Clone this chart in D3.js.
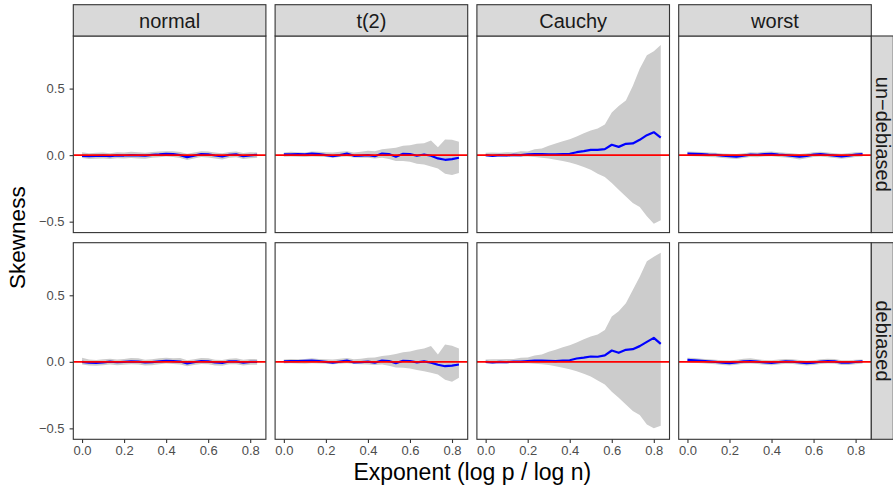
<!DOCTYPE html>
<html><head><meta charset="utf-8">
<script src="https://cdn.jsdelivr.net/npm/d3@7"></script>
<style>html,body{margin:0;padding:0;background:#fff;} svg{display:block;font-family:"Liberation Sans",Arial,Helvetica,sans-serif;}</style>
</head><body><svg id="c" width="893" height="493"></svg>
<script>
// ---- data ----
const columns = ["normal", "t(2)", "Cauchy", "worst"];
const rowsLab = ["un\u2212debiased", "debiased"];
const xTicks = [0, 0.2, 0.4, 0.6, 0.8];
const yTicks = [-0.5, 0, 0.5];
const xs = [0, 0.033, 0.067, 0.1, 0.133, 0.167, 0.2, 0.233, 0.267, 0.3, 0.333, 0.367, 0.4, 0.433, 0.467, 0.5, 0.533, 0.567, 0.6, 0.633, 0.667, 0.7, 0.733, 0.767, 0.8, 0.833];

const normalUnLine = [-0.005,-0.008,-0.006,-0.004,-0.007,-0.002,-0.003,0.000,-0.002,-0.004,0.002,0.005,0.010,0.008,0.000,-0.015,-0.004,0.008,0.005,-0.003,-0.010,0.002,0.006,-0.008,-0.002,0.002];
const normalUnHigh = [0.022,0.015,0.018,0.020,0.015,0.022,0.020,0.025,0.022,0.018,0.024,0.028,0.030,0.030,0.024,0.010,0.020,0.030,0.028,0.020,0.014,0.024,0.028,0.016,0.022,0.020];
const normalUnLow  = [-0.022,-0.030,-0.028,-0.026,-0.030,-0.024,-0.026,-0.022,-0.026,-0.028,-0.020,-0.016,-0.010,-0.014,-0.022,-0.036,-0.026,-0.014,-0.018,-0.026,-0.032,-0.020,-0.016,-0.030,-0.024,-0.020];

const normalDeLine = [0.000,-0.006,-0.008,-0.004,0.002,-0.003,0.000,0.004,0.002,-0.004,-0.002,0.004,0.008,0.005,0.002,-0.012,-0.002,0.006,0.004,-0.005,-0.008,0.003,0.004,-0.006,0.000,0.000];
const normalDeHigh = [0.030,0.018,0.014,0.020,0.024,0.018,0.022,0.028,0.026,0.016,0.020,0.026,0.030,0.026,0.028,0.012,0.020,0.028,0.026,0.016,0.014,0.024,0.026,0.016,0.022,0.020];
const normalDeLow  = [-0.020,-0.028,-0.030,-0.026,-0.020,-0.026,-0.022,-0.018,-0.020,-0.028,-0.026,-0.018,-0.012,-0.016,-0.020,-0.034,-0.024,-0.016,-0.018,-0.028,-0.030,-0.018,-0.018,-0.028,-0.022,-0.022];

const t2UnLine = [0.005,0.005,0.008,0.005,0.012,0.008,0.000,-0.008,0.000,0.012,-0.005,-0.003,0.000,-0.008,0.012,0.008,-0.012,0.010,0.008,-0.005,0.005,-0.005,-0.025,-0.035,-0.030,-0.020];
const t2UnHigh = [0.020,0.025,0.022,0.020,0.028,0.025,0.022,0.020,0.025,0.030,0.020,0.025,0.032,0.030,0.045,0.050,0.055,0.070,0.075,0.085,0.090,0.110,0.060,0.118,0.115,0.100];
const t2UnLow  = [-0.012,-0.010,-0.012,-0.015,-0.010,-0.012,-0.015,-0.020,-0.015,-0.010,-0.018,-0.020,-0.020,-0.025,-0.020,-0.030,-0.045,-0.045,-0.050,-0.065,-0.070,-0.085,-0.100,-0.140,-0.150,-0.135];

const t2DeLine = [0.004,0.006,0.005,0.008,0.010,0.006,0.000,-0.006,0.002,0.010,-0.004,-0.002,0.002,-0.006,0.010,0.006,-0.010,0.008,0.006,-0.004,0.004,-0.006,-0.022,-0.033,-0.028,-0.020];
const t2DeHigh = [0.018,0.022,0.020,0.022,0.026,0.022,0.020,0.018,0.024,0.028,0.020,0.024,0.030,0.032,0.044,0.050,0.058,0.072,0.078,0.090,0.100,0.118,0.055,0.130,0.120,0.100];
const t2DeLow  = [-0.012,-0.010,-0.012,-0.014,-0.010,-0.012,-0.014,-0.018,-0.014,-0.010,-0.016,-0.018,-0.020,-0.024,-0.020,-0.030,-0.042,-0.044,-0.050,-0.062,-0.070,-0.082,-0.095,-0.135,-0.150,-0.120];

const cauchyUnLine = [0.000,-0.005,0.000,-0.003,0.002,0.000,0.005,0.008,0.008,0.006,0.005,0.008,0.010,0.022,0.030,0.040,0.040,0.045,0.078,0.062,0.085,0.088,0.115,0.150,0.172,0.132];
const cauchyUnHigh = [0.017,0.020,0.018,0.022,0.020,0.030,0.028,0.045,0.050,0.070,0.088,0.105,0.120,0.140,0.165,0.185,0.200,0.230,0.320,0.370,0.410,0.520,0.650,0.750,0.780,0.828];
const cauchyUnLow  = [-0.010,-0.015,-0.010,-0.012,-0.010,-0.012,-0.010,-0.015,-0.020,-0.025,-0.035,-0.045,-0.055,-0.070,-0.090,-0.110,-0.140,-0.165,-0.210,-0.260,-0.310,-0.360,-0.390,-0.460,-0.515,-0.490];

const cauchyDeLine = [0.000,-0.004,0.000,-0.002,0.002,0.002,0.006,0.010,0.010,0.008,0.006,0.010,0.012,0.025,0.032,0.040,0.038,0.048,0.085,0.068,0.090,0.095,0.118,0.150,0.180,0.135];
const cauchyDeHigh = [0.018,0.020,0.020,0.022,0.022,0.030,0.032,0.048,0.055,0.075,0.090,0.110,0.125,0.145,0.170,0.190,0.205,0.240,0.340,0.380,0.440,0.540,0.640,0.755,0.790,0.820];
const cauchyDeLow  = [-0.010,-0.014,-0.010,-0.012,-0.010,-0.010,-0.010,-0.014,-0.018,-0.024,-0.034,-0.044,-0.055,-0.070,-0.090,-0.110,-0.140,-0.170,-0.225,-0.270,-0.320,-0.370,-0.400,-0.470,-0.500,-0.480];

const worstUnLine = [0.012,0.010,0.008,0.004,0.002,-0.004,-0.008,-0.012,-0.004,0.004,0.002,0.008,0.010,0.004,0.000,-0.005,-0.012,-0.005,0.004,0.008,0.002,-0.004,-0.010,-0.004,0.004,0.007];
const worstUnHigh = [0.028,0.026,0.024,0.020,0.018,0.012,0.010,0.008,0.014,0.022,0.020,0.026,0.028,0.022,0.018,0.014,0.008,0.014,0.022,0.026,0.020,0.014,0.010,0.016,0.022,0.024];
const worstUnLow  = [-0.006,-0.008,-0.010,-0.014,-0.016,-0.022,-0.026,-0.030,-0.022,-0.014,-0.016,-0.010,-0.008,-0.014,-0.018,-0.024,-0.032,-0.024,-0.014,-0.010,-0.016,-0.022,-0.028,-0.022,-0.014,-0.010];

const worstDeLine = [0.015,0.012,0.008,0.004,0.000,-0.006,-0.010,-0.004,0.004,0.006,0.002,-0.004,-0.008,-0.002,0.004,0.002,-0.004,-0.010,-0.006,0.002,0.006,0.004,-0.006,-0.006,0.000,0.004];
const worstDeHigh = [0.030,0.028,0.024,0.020,0.016,0.012,0.010,0.016,0.024,0.026,0.020,0.014,0.012,0.018,0.022,0.020,0.014,0.008,0.012,0.020,0.024,0.022,0.012,0.012,0.016,0.018];
const worstDeLow  = [-0.004,-0.006,-0.010,-0.014,-0.018,-0.024,-0.028,-0.022,-0.014,-0.012,-0.016,-0.022,-0.026,-0.020,-0.014,-0.016,-0.022,-0.028,-0.024,-0.016,-0.012,-0.014,-0.024,-0.024,-0.018,-0.012];

// table built from the arrays: [row][col]
const panelSeries = [
  [[normalUnLine, normalUnLow, normalUnHigh], [t2UnLine, t2UnLow, t2UnHigh], [cauchyUnLine, cauchyUnLow, cauchyUnHigh], [worstUnLine, worstUnLow, worstUnHigh]],
  [[normalDeLine, normalDeLow, normalDeHigh], [t2DeLine, t2DeLow, t2DeHigh], [cauchyDeLine, cauchyDeLow, cauchyDeHigh], [worstDeLine, worstDeLow, worstDeHigh]]
];

// ---- layout ----
const panelLeft = 73.3, panelW = 192.6, panelStep = 201.8;
const rowTop = [36, 242.7], panelH = 196.6;
const stripTop = 4.7, stripH = 31.3;
const rStripW = 22;
const ink = "#333333", tickTxt = "#4D4D4D";

const allVals = panelSeries.flat(2).flat();
const yMin = d3.min(allVals), yMax = d3.max(allVals), yPad = (yMax - yMin) * 0.05;
const xMin = d3.min(xs), xMax = d3.max(xs), xPad = (xMax - xMin) * 0.05;
const x = d3.scaleLinear().domain([xMin - xPad, xMax + xPad]).range([0, panelW]);
const y = d3.scaleLinear().domain([yMin - yPad, yMax + yPad]).range([panelH, 0]);

const svg = d3.select("#c");
svg.append("rect").attr("width", 893).attr("height", 493).attr("fill", "#fff");

const defs = svg.append("defs");
defs.append("clipPath").attr("id", "pclip").append("rect").attr("width", panelW).attr("height", panelH);

const area = d3.area().x((d) => x(d.x)).y0((d) => y(d.lo)).y1((d) => y(d.hi));
const line = d3.line().x((d) => x(d.x)).y((d) => y(d.v));

panelSeries.forEach((row, r) => {
  row.forEach((ser, c) => {
    const [lv, lo, hi] = ser;
    const pts = xs.map((xv, i) => ({ x: xv, v: lv[i], lo: lo[i], hi: hi[i] }));
    const g = svg.append("g").attr("transform", `translate(${panelLeft + c * panelStep},${rowTop[r]})`);
    g.append("rect").attr("width", panelW).attr("height", panelH).attr("fill", "#fff");
    const inner = g.append("g").attr("clip-path", "url(#pclip)");
    inner.append("path").datum(pts).attr("d", area).attr("fill", "#CCCCCC");
    inner.append("path").datum(pts).attr("d", line).attr("fill", "none").attr("stroke", "#0000FF").attr("stroke-width", 2.2).attr("stroke-linejoin", "round");
    inner.append("line").attr("x1", 0).attr("x2", panelW).attr("y1", y(0)).attr("y2", y(0)).attr("stroke", "#FF0000").attr("stroke-width", 1.7);
    g.append("rect").attr("width", panelW).attr("height", panelH).attr("fill", "none").attr("stroke", ink).attr("stroke-width", 1.1);

    if (c === 0) {
      const ax = g.append("g").call(d3.axisLeft(y).tickValues(yTicks).tickFormat(d3.format(".1f")).tickSize(3.7).tickPadding(5));
      ax.select(".domain").remove();
      ax.selectAll("line").attr("stroke", ink).attr("stroke-width", 1.1);
      ax.selectAll("text").attr("fill", tickTxt).style("font-size", "13px").style("font-family", "'Liberation Sans',Arial,sans-serif");
    }
    if (r === 1) {
      const ax = g.append("g").attr("transform", `translate(0,${panelH})`).call(d3.axisBottom(x).tickValues(xTicks).tickFormat(d3.format(".1f")).tickSize(3.7).tickPadding(3));
      ax.select(".domain").remove();
      ax.selectAll("line").attr("stroke", ink).attr("stroke-width", 1.1);
      ax.selectAll("text").attr("fill", tickTxt).style("font-size", "13px").style("font-family", "'Liberation Sans',Arial,sans-serif");
    }
  });
});

// top strips
columns.forEach((lab, c) => {
  const g = svg.append("g").attr("transform", `translate(${panelLeft + c * panelStep},${stripTop})`);
  g.append("rect").attr("width", panelW).attr("height", stripH).attr("fill", "#D9D9D9").attr("stroke", ink).attr("stroke-width", 1.1);
  g.append("text").attr("x", panelW / 2).attr("y", 23.6).attr("text-anchor", "middle").attr("fill", "#1A1A1A").style("font-size", "20px").text(lab);
});
// right strips
const rX = panelLeft + 3 * panelStep + panelW;
rowsLab.forEach((lab, r) => {
  const g = svg.append("g").attr("transform", `translate(${rX},${rowTop[r]})`);
  g.append("rect").attr("width", rStripW).attr("height", panelH).attr("fill", "#D9D9D9").attr("stroke", ink).attr("stroke-width", 1.1);
  g.append("text").attr("transform", `translate(4.4,${panelH / 2}) rotate(90)`).attr("text-anchor", "middle").attr("fill", "#1A1A1A").style("font-size", "20px").text(lab);
});

// axis titles
svg.append("text").attr("x", panelLeft + (3 * panelStep + panelW) / 2).attr("y", 480).attr("text-anchor", "middle").attr("fill", "#000").style("font-size", "23px").text("Exponent (log p / log n)");
svg.append("text").attr("transform", `translate(25,${(rowTop[0] + rowTop[1] + panelH) / 2}) rotate(-90)`).attr("text-anchor", "middle").attr("fill", "#000").style("font-size", "22.5px").text("Skewness");
</script></body></html>
